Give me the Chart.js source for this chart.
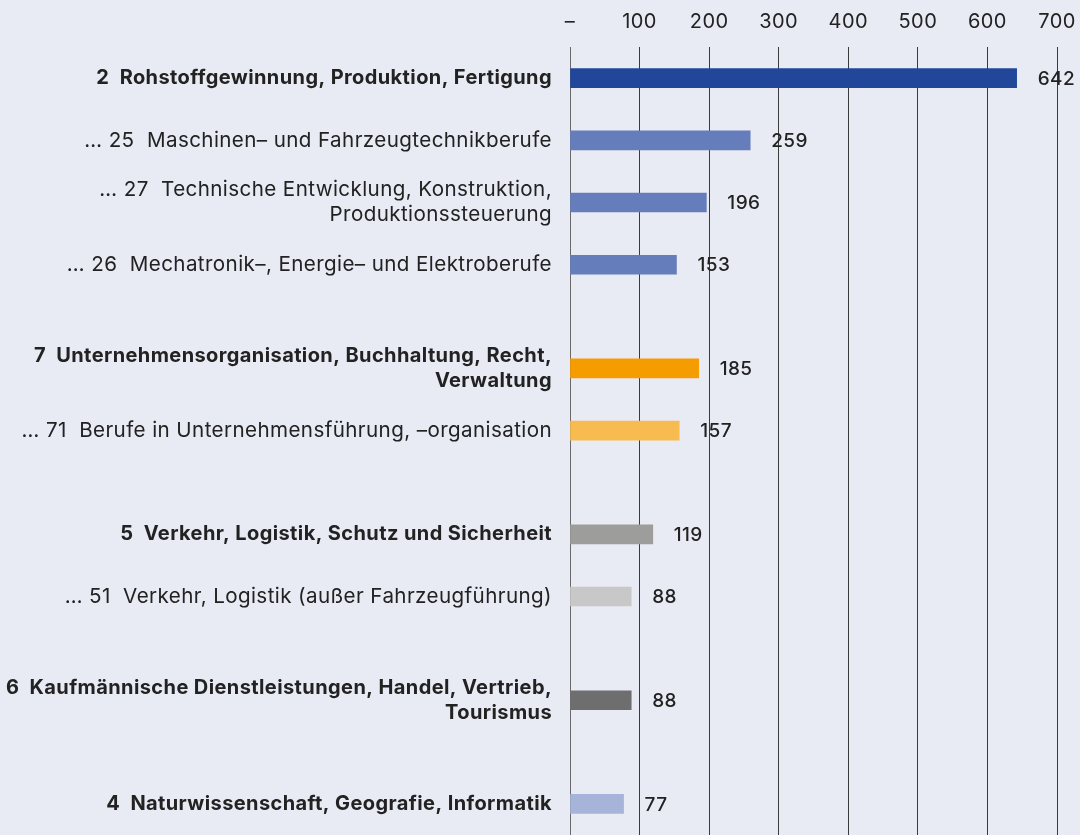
<!DOCTYPE html>
<html>
<head>
<meta charset="utf-8">
<script src="https://cdn.jsdelivr.net/npm/chart.js@4"></script>
<style>
  html, body { margin: 0; padding: 0; background: #e8eaf4; }
  #wrap { width: 1080px; height: 835px; }
</style>
</head>
<body>
<div id="wrap"><canvas id="c" width="1080" height="835"></canvas></div>
<script>
// ---- data ----
const categories = [
  ['2  Rohstoffgewinnung, Produktion, Fertigung'],
  ['… 25  Maschinen– und Fahrzeugtechnikberufe'],
  ['… 27  Technische Entwicklung, Konstruktion,', 'Produktionssteuerung'],
  ['… 26  Mechatronik–, Energie– und Elektroberufe'],
  ['7  Unternehmensorganisation, Buchhaltung, Recht,', 'Verwaltung'],
  ['… 71  Berufe in Unternehmensführung, –organisation'],
  ['5  Verkehr, Logistik, Schutz und Sicherheit'],
  ['… 51  Verkehr, Logistik (außer Fahrzeugführung)'],
  ['6  Kaufmännische Dienstleistungen, Handel, Vertrieb,', 'Tourismus'],
  ['4  Naturwissenschaft, Geografie, Informatik']
];
const values = [642, 259, 196, 153, 185, 157, 119, 88, 88, 77];
const barColors = ['#22479a', '#657dba', '#657dba', '#657dba', '#f59c00', '#f7bb50', '#9d9d9b', '#c8c8c8', '#6e6e6e', '#a7b4d9'];
const isMain = [true, false, false, false, true, false, true, false, true, true];
const tickLabels = ['–', '100', '200', '300', '400', '500', '600', '700'];

// ---- slot layout (category axis with blank spacer slots) ----
const slotLabels = [''];
const slotValues = [null];
const slotColors = ['rgba(0,0,0,0)'];
const slotBold = [false];
function pushBlank() {
  slotLabels.push(''); slotValues.push(null); slotColors.push('rgba(0,0,0,0)'); slotBold.push(false);
}
categories.forEach((lab, i) => {
  if (i > 0) {
    const blanks = isMain[i] ? 4 : 2;
    for (let k = 0; k < blanks; k++) pushBlank();
  }
  slotLabels.push(lab.length === 1 ? lab[0] : lab);
  slotValues.push(values[i]);
  slotColors.push(barColors[i]);
  slotBold.push(isMain[i]);
});
pushBlank();

const FONT = 'Inter, "Noto Sans", sans-serif';

const spacing = {
  id: 'spacing',
  beforeDraw(chart) { chart.ctx.letterSpacing = '0.4px'; },
  afterDraw(chart) { chart.ctx.letterSpacing = '0px'; }
};

const valueLabels = {
  id: 'valueLabels',
  afterDatasetsDraw(chart) {
    const ctx = chart.ctx;
    const meta = chart.getDatasetMeta(0);
    ctx.save();
    ctx.font = '500 19px ' + FONT;
    ctx.fillStyle = '#222';
    ctx.textAlign = 'left';
    ctx.textBaseline = 'middle';
    meta.data.forEach((el, i) => {
      const v = slotValues[i];
      if (v === null) return;
      ctx.fillText(String(v), el.x + 21, el.y + 1);
    });
    ctx.restore();
  }
};

new Chart(document.getElementById('c'), {
  type: 'bar',
  data: {
    labels: slotLabels,
    datasets: [{
      data: slotValues,
      backgroundColor: slotColors,
      borderWidth: 0,
      barThickness: 19
    }]
  },
  options: {
    indexAxis: 'y',
    responsive: false,
    devicePixelRatio: 1,
    animation: false,
    layout: { padding: { left: 0, right: 23, top: 0, bottom: 0 } },
    plugins: { legend: { display: false }, tooltip: { enabled: false } },
    scales: {
      x: {
        position: 'top',
        min: 0,
        max: 700,
        afterFit: s => { s.height = 47; s.paddingLeft = 0; s.paddingRight = 0; },
        border: { display: false },
        grid: { color: ctx => ctx.index === 0 ? '#6a6a6a' : '#3a3a3a', lineWidth: 1, drawTicks: false },
        ticks: {
          stepSize: 100,
          padding: 13,
          color: '#222',
          font: { family: FONT, size: 20 },
          callback: (v, i) => tickLabels[i]
        }
      },
      y: {
        afterFit: s => { s.width = 570; s.paddingTop = 0; s.paddingBottom = 0; },
        border: { display: false },
        grid: { display: false, drawTicks: false },
        ticks: {
          autoSkip: false,
          padding: 18,
          color: '#222',
          font: ctx => (slotBold[ctx.index]
            ? { family: FONT, size: 20, weight: 'bold', lineHeight: 1.25 }
            : { family: FONT, size: 20.6, weight: 'normal', lineHeight: 1.21 })
        }
      }
    }
  },
  plugins: [spacing, valueLabels]
});
</script>
</body>
</html>
